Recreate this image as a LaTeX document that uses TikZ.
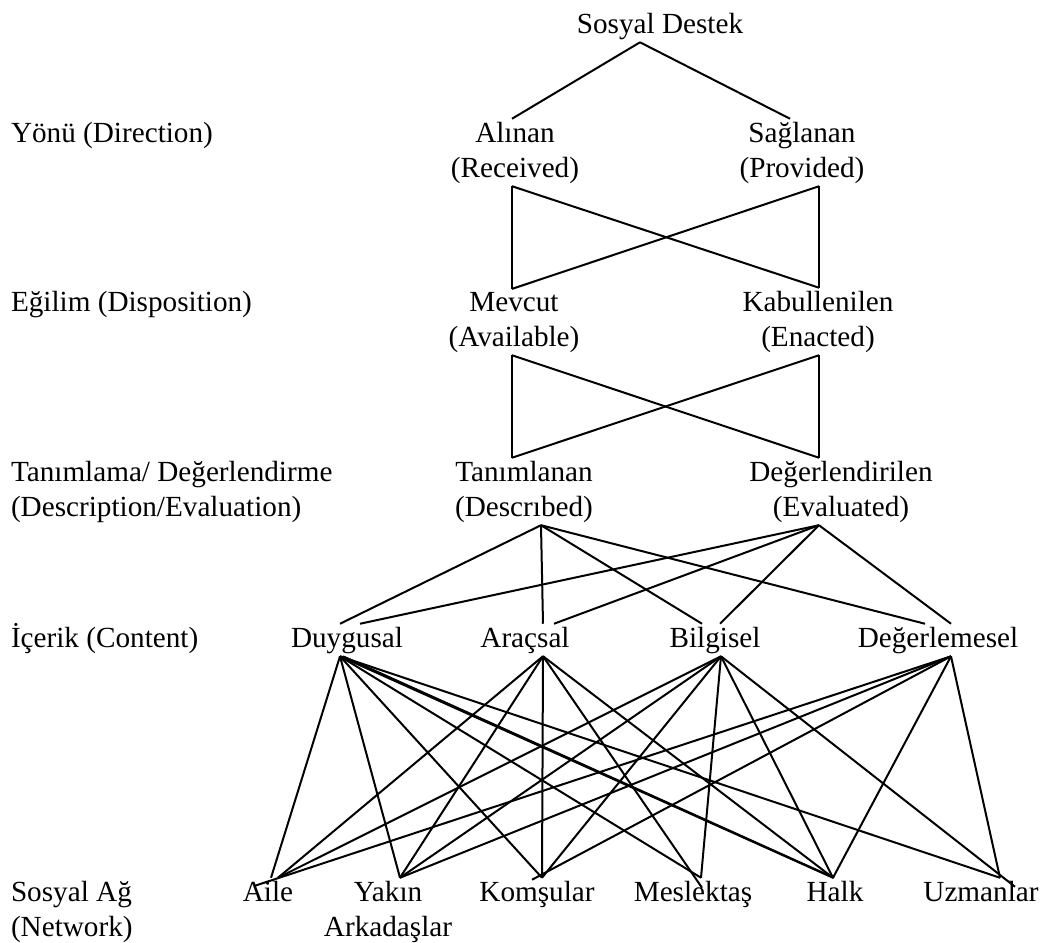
\documentclass[tikz,border=0pt]{standalone}
\usepackage{fontspec}
\setmainfont{Liberation Serif}
\begin{document}
\begin{tikzpicture}[x=1pt, y=-1pt, line width=2pt,
  lbl/.style={font=\fontsize{29.2}{35}\selectfont, inner sep=2pt, align=center, anchor=base},
  side/.style={lbl, align=left, anchor=base west}]
  \useasboundingbox (0,0) rectangle (1045,943);

  % levels on the left (two-line nodes sit on their last line)
  \node[side] (dir) at (8,142) {Yönü (Direction)};
  \node[side] (dis) at (8,311) {Eğilim (Disposition)};
  \node[side] (dsc) at (8,516) {Tanımlama/ Değerlendirme\\(Description/Evaluation)};
  \node[side] (cnt) at (8,647) {İçerik (Content)};
  \node[side] (net) at (8,936) {Sosyal Ağ\\(Network)};

  % the tree
  \node[lbl] (sd) at (660,33) {Sosyal Destek};
  \node[lbl] (ali) at (515,177) {Alınan\\(Received)};
  \node[lbl] (sag) at (802,177) {Sağlanan\\(Provided)};
  \node[lbl] (mev) at (514,346) {Mevcut\\(Available)};
  \node[lbl] (kab) at (818,346) {Kabullenilen\\(Enacted)};
  \node[lbl] (tan) at (524,516) {Tanımlanan\\(Descrıbed)};
  \node[lbl] (deg) at (841,516) {Değerlendirilen\\(Evaluated)};

  \node[lbl] (duy) at (347,647) {Duygusal};
  \node[lbl] (arc) at (525,647) {Araçsal};
  \node[lbl] (bil) at (715,647) {Bilgisel};
  \node[lbl] (dgm) at (938,647) {Değerlemesel};

  \node[lbl] (aile) at (268,901) {Aile};
  \node[lbl] (yak) at (388,936) {Yakın\\Arkadaşlar};
  \node[lbl] (kom) at (537,901) {Komşular};
  \node[lbl] (mes) at (693,901) {Meslektaş};
  \node[lbl] (halk) at (835,901) {Halk};
  \node[lbl] (uzm) at (981,901) {Uzmanlar};

  % direction / disposition
  \draw ([xshift=-20pt]sd.south) -- ([xshift=-3pt]ali.north);
  \draw ([xshift=-20pt]sd.south) -- ([xshift=-12pt]sag.north);
  \draw ([xshift=-3pt]ali.south) -- ([xshift=-2pt]mev.north);
  \draw ([xshift=-3pt]ali.south) -- ([xshift=1pt]kab.north);
  \draw ([xshift=17pt]sag.south) -- ([xshift=-2pt]mev.north);
  \draw ([xshift=17pt]sag.south) -- ([xshift=1pt]kab.north);
  \draw ([xshift=-2pt]mev.south) -- ([xshift=-12pt]tan.north);
  \draw ([xshift=-2pt]mev.south) -- ([xshift=-22pt]deg.north);
  \draw ([xshift=1pt]kab.south) -- ([xshift=-12pt]tan.north);
  \draw ([xshift=1pt]kab.south) -- ([xshift=-22pt]deg.north);

  % description / content
  \foreach \to/\dx in {duy/-7, arc/18, bil/-13, dgm/-13}
    \draw ([xshift=17pt]tan.south) -- ([xshift=\dx pt]\to.north);
  \foreach \to/\dx in {duy/13, arc/29, bil/5, dgm/13}
    \draw ([xshift=-22pt]deg.south) -- ([xshift=\dx pt]\to.north);

  % content / network
  \foreach \to/\dx/\dy in {aile/3/0, yak/12/0, kom/5/0, mes/8/0, halk/-2/0, uzm/19/0}
    \draw ([xshift=-7pt]duy.south) -- ([xshift=\dx pt, yshift=\dy pt]\to.north);
  \draw ([xshift=-4pt]duy.south) -- ([xshift=-1pt]halk.north);
  \foreach \to/\dx/\dy in {aile/10/0, yak/12/0, kom/5/0, mes/9/-10, halk/-2/0}
    \draw ([xshift=18pt]arc.south) -- ([xshift=\dx pt, yshift=\dy pt]\to.north);
  \foreach \to/\dx/\dy in {aile/10/0, yak/12/0, kom/5/0, mes/8/0, halk/-2/0, uzm/34/-9}
    \draw ([xshift=6pt]bil.south) -- ([xshift=\dx pt, yshift=\dy pt]\to.north);
  \foreach \to/\dx/\dy in {aile/-13/-8, yak/12/0, kom/-5/-2, halk/-2/0, uzm/19/0}
    \draw ([xshift=13pt]dgm.south) -- ([xshift=\dx pt, yshift=\dy pt]\to.north);
\end{tikzpicture}
\end{document}
